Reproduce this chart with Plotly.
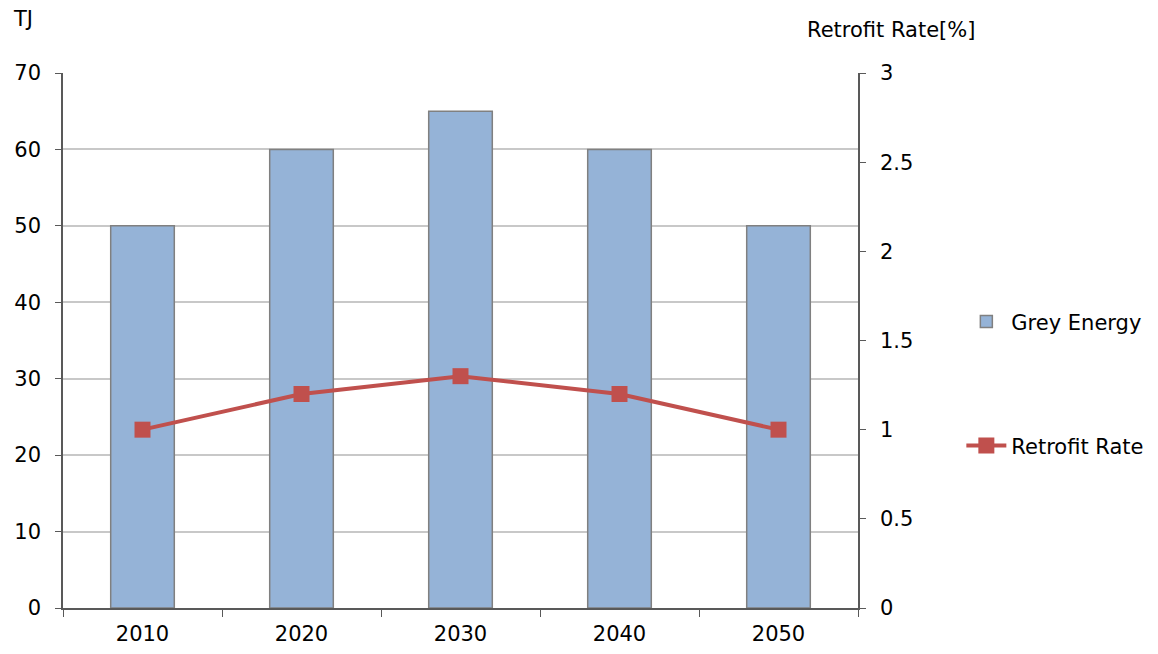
import plotly.graph_objects as go

years = ["2010", "2020", "2030", "2040", "2050"]
grey_energy = [50, 60, 65, 60, 50]
retrofit_rate = [1.0, 1.2, 1.3, 1.2, 1.0]

FONT = "'DejaVu Sans', Lato, sans-serif"
AXIS_COLOR = "#595959"
FS = 21

fig = go.Figure()
fig.add_trace(go.Bar(
    x=years, y=grey_energy, name="Grey Energy",
    marker=dict(color="#95B3D7", line=dict(color="#808080", width=1.5)),
    width=0.4, legend="legend",
))
fig.add_trace(go.Scatter(
    x=years, y=retrofit_rate, name="Retrofit Rate", yaxis="y2",
    mode="lines+markers",
    line=dict(color="#C0504D", width=4),
    marker=dict(symbol="square", size=16, color="#C0504D"),
    legend="legend2",
))

fig.update_layout(
    width=1158, height=654,
    margin=dict(l=63, r=300, t=73, b=46, autoexpand=False),
    paper_bgcolor="white", plot_bgcolor="white",
    font=dict(family=FONT, size=FS, color="#000000"),
    showlegend=True,
    xaxis=dict(
        type="category", showgrid=False, automargin=False,
        showline=True, linecolor=AXIS_COLOR, linewidth=1.5,
        ticks="outside", tickson="boundaries", ticklen=7, tickcolor=AXIS_COLOR,
        tickfont=dict(size=FS), ticklabelstandoff=6,
    ),
    yaxis=dict(
        range=[0, 70], dtick=10, showgrid=True, gridcolor="#C8C8C8", gridwidth=1.5,
        showline=True, linecolor=AXIS_COLOR, linewidth=1.5, automargin=False,
        ticks="outside", ticklen=6, tickcolor=AXIS_COLOR,
        tickfont=dict(size=FS), zeroline=False, ticklabelstandoff=10,
    ),
    yaxis2=dict(
        range=[0, 3], dtick=0.5, overlaying="y", side="right", showgrid=False,
        showline=True, linecolor=AXIS_COLOR, linewidth=1.5, automargin=False,
        ticks="outside", ticklen=6, tickcolor=AXIS_COLOR,
        tickfont=dict(size=FS), zeroline=False, ticklabelstandoff=10,
    ),
    legend=dict(x=1.13, y=0.535, xanchor="left", yanchor="middle",
                font=dict(size=FS), bgcolor="rgba(0,0,0,0)", itemwidth=40),
    legend2=dict(x=1.13, y=0.303, xanchor="left", yanchor="middle",
                 font=dict(size=FS), bgcolor="rgba(0,0,0,0)", itemwidth=40),
    annotations=[
        dict(text="TJ", xref="paper", yref="paper", x=-0.065, y=1.1,
             xanchor="left", yanchor="middle", showarrow=False, font=dict(size=FS)),
        dict(text="Retrofit Rate[%]", xref="paper", yref="paper", x=1.0415, y=1.08,
             xanchor="center", yanchor="middle", showarrow=False, font=dict(size=FS)),
    ],
)

fig.write_html("out.html")
